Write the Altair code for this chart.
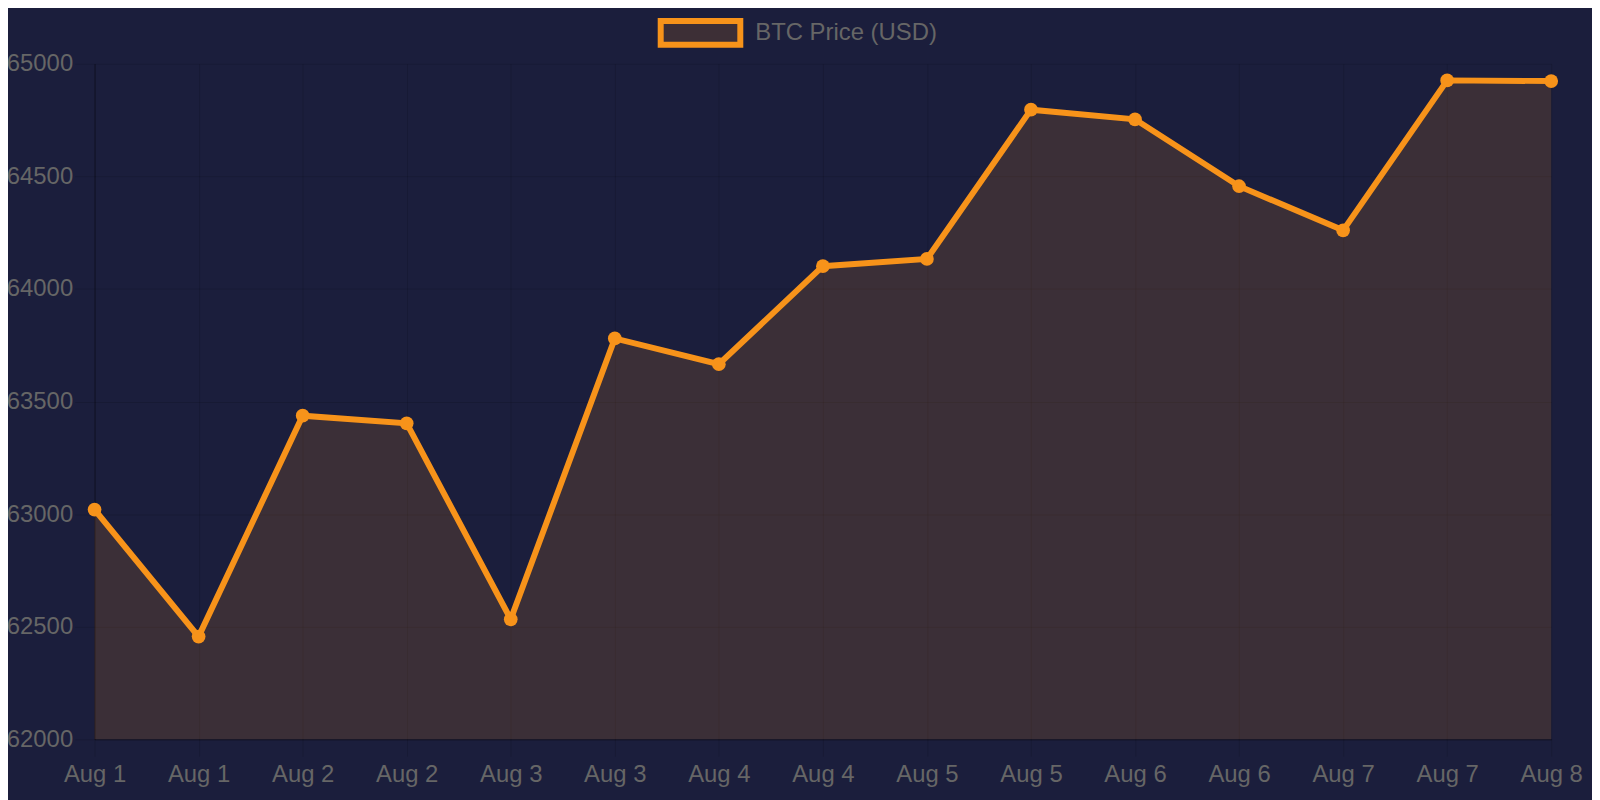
import json
import altair as alt
import pandas as pd

labels = ["Aug 1", "Aug 1", "Aug 2", "Aug 2", "Aug 3", "Aug 3", "Aug 4", "Aug 4",
          "Aug 5", "Aug 5", "Aug 6", "Aug 6", "Aug 7", "Aug 7", "Aug 8"]
prices = [63020, 62456, 63437, 63403, 62533, 63780, 63666, 64101,
          64133, 64796, 64753, 64456, 64260, 64926, 64923]
series_name = "BTC Price (USD)"
y_ticks = [62000, 62500, 63000, 63500, 64000, 64500, 65000]

df = pd.DataFrame({
    "idx": list(range(len(labels))),
    "price": prices,
    "series": [series_name] * len(labels),
})

ORANGE = "#f7931a"
BG = "#1b1e3c"
label_expr = json.dumps(labels) + "[datum.value]"

x_enc = alt.X(
    "idx:Q",
    scale=alt.Scale(domain=[0, len(labels) - 1], nice=False, zero=False),
    axis=alt.Axis(
        values=list(range(len(labels))),
        labelExpr=label_expr,
        title=None,
        tickSize=17,
        labelPadding=6,
        labelFontSize=24,
        labelColor="#666666",
        labelFont="Liberation Sans",
        labelFlush=False,
        labelOverlap=False,
        labelBound=False,
        grid=True,
        gridColor="#000000",
        gridOpacity=0.12,
        tickColor="#000000",
        tickOpacity=0.12,
        domainColor="#000000",
        domainOpacity=0.35,
        labelAngle=0,
    ),
)
y_enc = alt.Y(
    "price:Q",
    scale=alt.Scale(domain=[62000, 65000], nice=False, zero=False),
    axis=alt.Axis(
        values=y_ticks,
        format="d",
        title=None,
        tickSize=20,
        labelPadding=2,
        labelFontSize=24,
        labelColor="#666666",
        labelFont="Liberation Sans",
        labelFlush=False,
        labelOverlap=False,
        grid=True,
        gridColor="#000000",
        gridOpacity=0.12,
        tickColor="#000000",
        tickOpacity=0.12,
        domainColor="#000000",
        domainOpacity=0.35,
    ),
)

base = alt.Chart(df)

area = base.mark_area(color=ORANGE, fillOpacity=0.15, strokeWidth=0).encode(
    x=x_enc, y=y_enc, y2=alt.datum(62000)
)

line = base.mark_line(strokeWidth=6).encode(
    x=x_enc,
    y=y_enc,
    color=alt.Color(
        "series:N",
        scale=alt.Scale(range=[ORANGE]),
        legend=alt.Legend(
            title=None,
            orient="none",
            legendX=566,
            legendY=-74,
            symbolType="M-1,-0.3H1V0.3H-1Z",
            symbolSize=6400,
            symbolFillColor="#3d2f36",
            symbolStrokeColor=ORANGE,
            symbolStrokeWidth=6,
            symbolOpacity=1,
            labelFontSize=24,
            labelColor="#666666",
            labelFont="Liberation Sans",
            labelOffset=12,
            labelLimit=0,
            padding=0,
        ),
    ),
)

points = base.mark_circle(size=190, color=ORANGE, opacity=1).encode(x=x_enc, y=y_enc)

chart = (
    alt.layer(area, line, points)
    .properties(
        width=1464,
        height=679,
        background=BG,
        padding={"left": 87, "top": 54, "right": 41, "bottom": 59},
        autosize=alt.AutoSizeParams(type="none"),
    )
    .configure_view(stroke=None)
)

chart.save("out.html", embed_options={"renderer": "svg", "actions": False})
